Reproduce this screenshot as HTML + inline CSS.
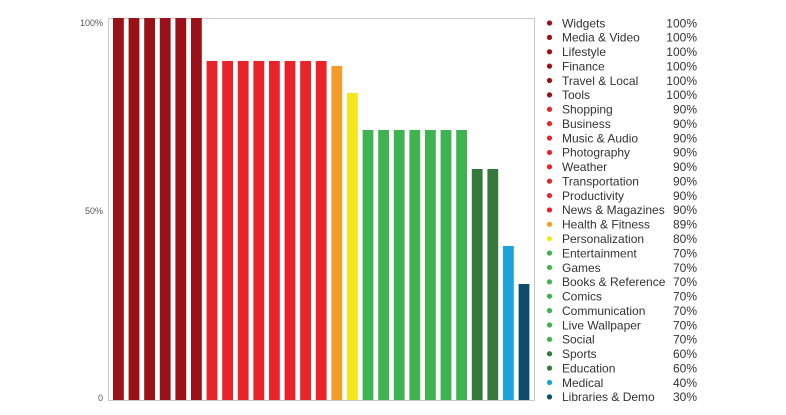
<!DOCTYPE html>
<html><head><style>
body{margin:0;background:#fff;width:786px;height:410px;overflow:hidden;font-family:"Liberation Sans",sans-serif;}
</style></head><body>
<svg width="786" height="410" xmlns="http://www.w3.org/2000/svg">
<rect x="108.5" y="18.5" width="426" height="382" fill="none" stroke="#c8c8c8" stroke-width="1"/>
<g font-size="9" fill="#555" text-anchor="end" font-family="Liberation Sans,sans-serif">
<text x="103" y="26">100%</text>
<text x="103" y="214">50%</text>
<text x="103" y="401">0</text>
</g>
<g id="bars"></g>
<g id="leg" font-size="12" fill="#333" font-family="Liberation Sans,sans-serif"></g>
</svg>
<script>
var tops={100:18,90:61,89:66,80:93,70:130,60:169,40:246,30:284};
var d=[["Widgets",100,"#9b1118"],["Media & Video",100,"#9b1118"],["Lifestyle",100,"#9b1118"],["Finance",100,"#9b1118"],["Travel & Local",100,"#9b1118"],["Tools",100,"#9b1118"],
["Shopping",90,"#e8232a"],["Business",90,"#e8232a"],["Music & Audio",90,"#e8232a"],["Photography",90,"#e8232a"],["Weather",90,"#e8232a"],["Transportation",90,"#e8232a"],["Productivity",90,"#e8232a"],["News & Magazines",90,"#e8232a"],
["Health & Fitness",89,"#f39c2b"],["Personalization",80,"#f5e51b"],
["Entertainment",70,"#3fb34f"],["Games",70,"#3fb34f"],["Books & Reference",70,"#3fb34f"],["Comics",70,"#3fb34f"],["Communication",70,"#3fb34f"],["Live Wallpaper",70,"#3fb34f"],["Social",70,"#3fb34f"],
["Sports",60,"#357a3b"],["Education",60,"#357a3b"],["Medical",40,"#1ba3dc"],["Libraries & Demo",30,"#0d4c6e"]];
var ns="http://www.w3.org/2000/svg",b=document.getElementById("bars"),l=document.getElementById("leg");
d.forEach(function(r,i){
 var x=113+i*15.6,t0=tops[r[1]],h=400-t0;
 var e=document.createElementNS(ns,"rect");e.setAttribute("x",x);e.setAttribute("y",t0);e.setAttribute("width",10.8);e.setAttribute("height",h);e.setAttribute("fill",r[2]);b.appendChild(e);
 var y=23+i*14.38;
 var c=document.createElementNS(ns,"circle");c.setAttribute("cx",549.5);c.setAttribute("cy",y);c.setAttribute("r",2.6);c.setAttribute("fill",r[2]);l.appendChild(c);
 var t=document.createElementNS(ns,"text");t.setAttribute("x",562);t.setAttribute("y",y+4.3);t.textContent=r[0];l.appendChild(t);
 var p=document.createElementNS(ns,"text");p.setAttribute("x",697);p.setAttribute("y",y+4.3);p.setAttribute("text-anchor","end");p.textContent=r[1]+"%";l.appendChild(p);
});
</script>
</body></html>
